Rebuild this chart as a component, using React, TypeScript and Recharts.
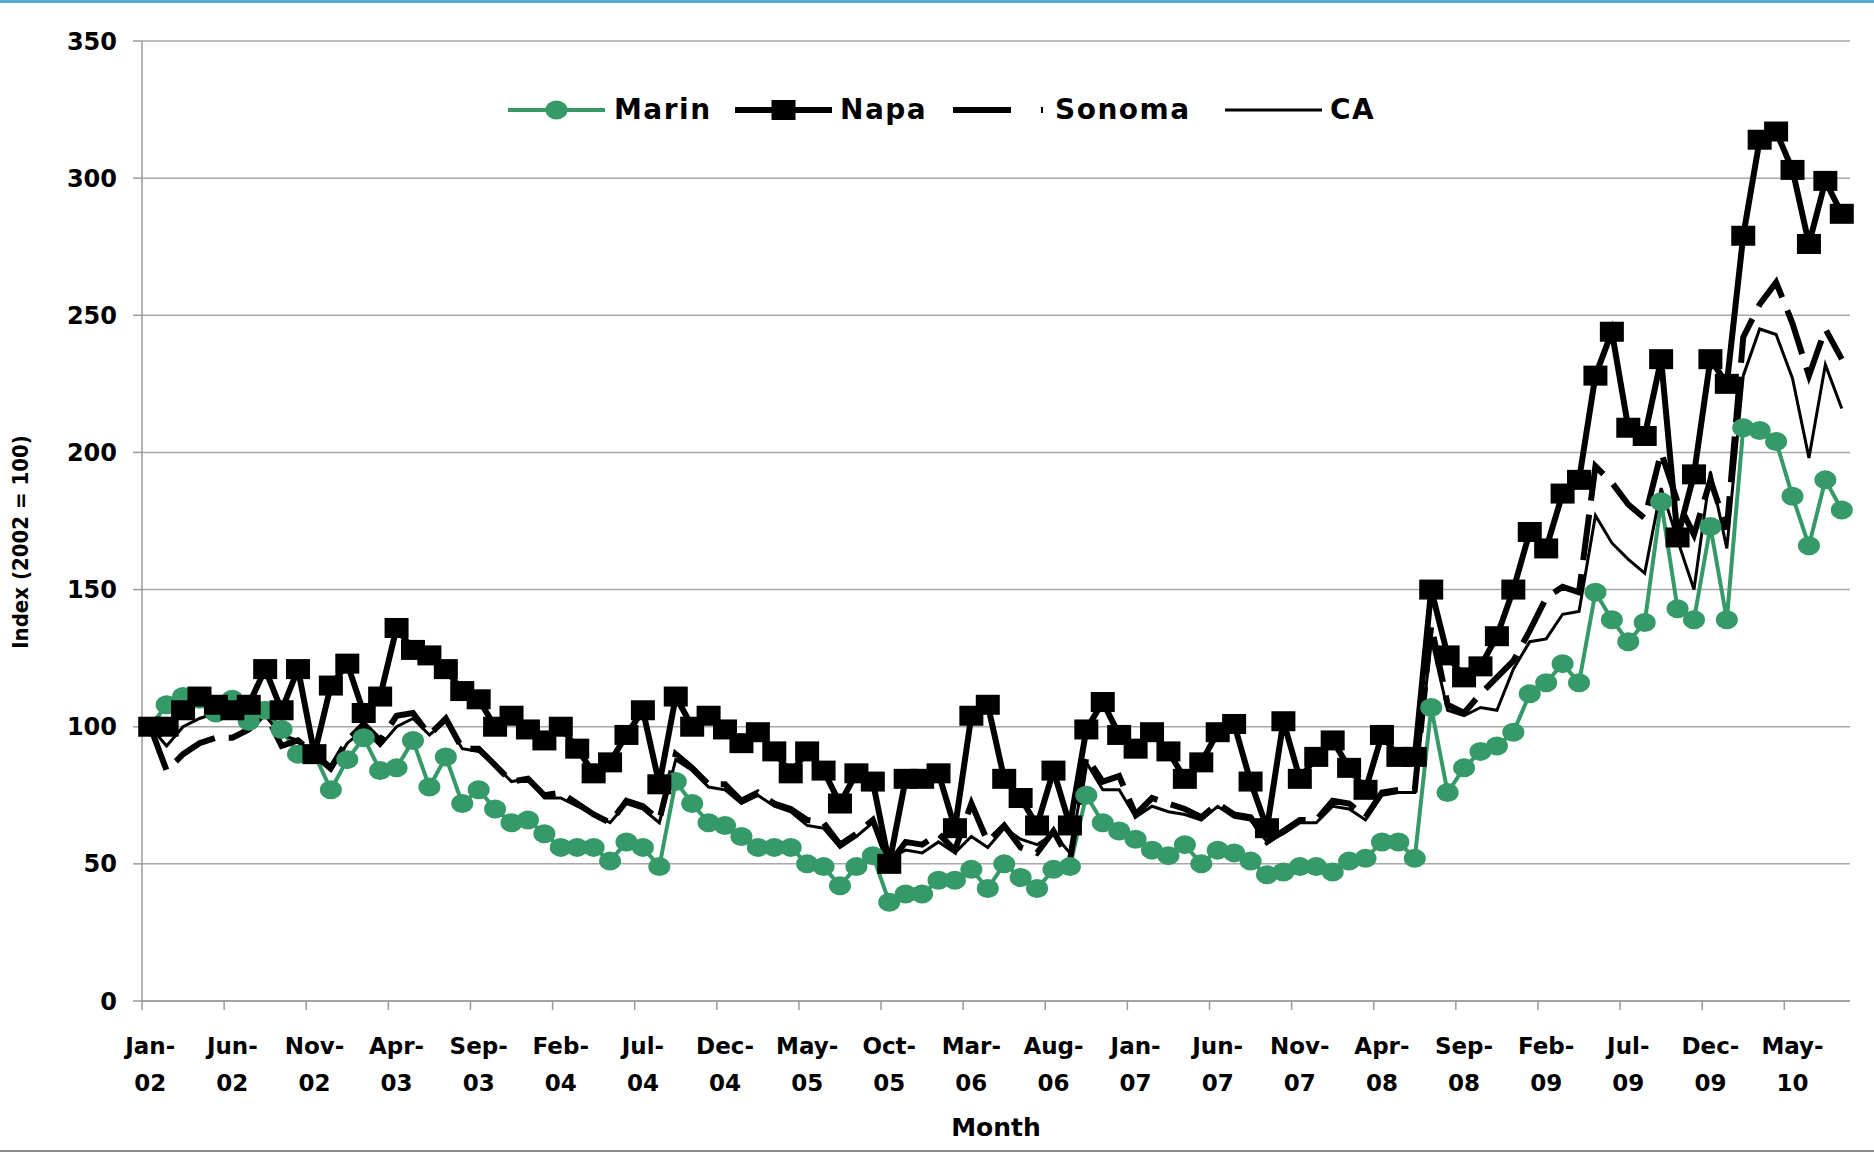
import { LineChart, Line, CartesianGrid, XAxis, YAxis, Legend } from "recharts";

const months = [
  "Jan-02", "Feb-02", "Mar-02", "Apr-02", "May-02", "Jun-02", "Jul-02", "Aug-02", "Sep-02", "Oct-02", "Nov-02", "Dec-02",
  "Jan-03", "Feb-03", "Mar-03", "Apr-03", "May-03", "Jun-03", "Jul-03", "Aug-03", "Sep-03", "Oct-03", "Nov-03", "Dec-03",
  "Jan-04", "Feb-04", "Mar-04", "Apr-04", "May-04", "Jun-04", "Jul-04", "Aug-04", "Sep-04", "Oct-04", "Nov-04", "Dec-04",
  "Jan-05", "Feb-05", "Mar-05", "Apr-05", "May-05", "Jun-05", "Jul-05", "Aug-05", "Sep-05", "Oct-05", "Nov-05", "Dec-05",
  "Jan-06", "Feb-06", "Mar-06", "Apr-06", "May-06", "Jun-06", "Jul-06", "Aug-06", "Sep-06", "Oct-06", "Nov-06", "Dec-06",
  "Jan-07", "Feb-07", "Mar-07", "Apr-07", "May-07", "Jun-07", "Jul-07", "Aug-07", "Sep-07", "Oct-07", "Nov-07", "Dec-07",
  "Jan-08", "Feb-08", "Mar-08", "Apr-08", "May-08", "Jun-08", "Jul-08", "Aug-08", "Sep-08", "Oct-08", "Nov-08", "Dec-08",
  "Jan-09", "Feb-09", "Mar-09", "Apr-09", "May-09", "Jun-09", "Jul-09", "Aug-09", "Sep-09", "Oct-09", "Nov-09", "Dec-09",
  "Jan-10", "Feb-10", "Mar-10", "Apr-10", "May-10", "Jun-10", "Jul-10", "Aug-10",
];

const marin = [
  100, 108, 111, 110, 105, 110, 102, 106, 99, 90,
  90, 77, 88, 96, 84, 85, 95, 78, 89, 72,
  77, 70, 65, 66, 61, 56, 56, 56, 51, 58,
  56, 49, 80, 72, 65, 64, 60, 56, 56, 56,
  50, 49, 42, 49, 53, 36, 39, 39, 44, 44,
  48, 41, 50, 45, 41, 48, 49, 75, 65, 62,
  59, 55, 53, 57, 50, 55, 54, 51, 46, 47,
  49, 49, 47, 51, 52, 58, 58, 52, 107, 76,
  85, 91, 93, 98, 112, 116, 123, 116, 149, 139,
  131, 138, 182, 143, 139, 173, 139, 209, 208, 204,
  184, 166, 190, 179,
];

const napa = [
  100, 100, 106, 111, 108, 106, 108, 121, 106, 121,
  90, 115, 123, 105, 111, 136, 128, 126, 121, 113,
  110, 100, 104, 99, 95, 100, 92, 83, 87, 97,
  106, 79, 111, 100, 104, 99, 94, 98, 91, 83,
  91, 84, 72, 83, 80, 50, 81, 81, 83, 63,
  104, 108, 81, 74, 64, 84, 64, 99, 109, 97,
  92, 98, 91, 81, 87, 98, 101, 80, 63, 102,
  81, 89, 95, 85, 77, 97, 89, 89, 150, 126,
  118, 122, 133, 150, 171, 165, 185, 190, 228, 244,
  209, 206, 234, 169, 192, 234, 225, 279, 314, 317,
  303, 276, 299, 287,
];

const sonoma = [
  100, 84, 90, 94, 96, 96, 99, 105, 93, 95,
  90, 85, 95, 101, 95, 104, 105, 97, 103, 92,
  92, 86, 80, 81, 75, 76, 72, 68, 65, 73,
  71, 66, 90, 85, 79, 79, 73, 76, 72, 70,
  66, 65, 57, 61, 66, 50, 58, 57, 61, 55,
  72, 58, 64, 56, 54, 62, 51, 89, 80, 82,
  68, 74, 72, 70, 67, 72, 68, 67, 58, 62,
  66, 66, 73, 72, 67, 76, 77, 77, 137, 108,
  105, 112, 118, 124, 135, 147, 151, 149, 195, 189,
  181, 176, 200, 182, 170, 190, 172, 242, 254, 262,
  247, 228, 245, 234,
];

const ca = [
  100, 93, 100, 103, 105, 104, 103, 104, 97, 95,
  89, 84, 94, 99, 93, 100, 103, 97, 102, 92,
  91, 86, 80, 81, 74, 74, 71, 68, 65, 72,
  70, 65, 88, 84, 78, 77, 72, 75, 71, 69,
  64, 63, 56, 60, 65, 52, 55, 54, 58, 54,
  60, 56, 63, 59, 57, 61, 54, 87, 77, 77,
  67, 71, 69, 68, 66, 71, 67, 66, 58, 61,
  65, 65, 71, 70, 66, 75, 76, 76, 132, 106,
  104, 107, 106, 121, 131, 132, 141, 142, 177, 167,
  161, 156, 187, 168, 150, 193, 165, 228, 245, 243,
  227, 198, 232, 216,
];

const yTicks = [0, 50, 100, 150, 200, 250, 300, 350];

const data = months.map((m, i) => ({
  month: m,
  Marin: marin[i],
  Napa: napa[i],
  Sonoma: sonoma[i],
  CA: ca[i],
}));

const W = 1874;
const H = 1153;
const PLOT_LEFT = 142;
const PLOT_RIGHT = 1850;
const HALF_BAND = (PLOT_RIGHT - PLOT_LEFT) / months.length / 2;
const GREEN = "#359A68";
const AXIS_GRAY = "#9a9a9a";
const FONT = "'DejaVu Sans', sans-serif";

const circleDot = (p: any) => (
  <ellipse key={`m${p.index}`} cx={p.cx} cy={p.cy} rx={11} ry={9.5} fill={GREEN} />
);

const squareDot = (p: any) => (
  <rect key={`n${p.index}`} x={p.cx - 12} y={p.cy - 10} width={24} height={20} fill="#000" />
);

const XTick = (props: any) => {
  const { x, y, payload } = props;
  const [mon, yr] = String(payload.value).split("-");
  return (
    <g>
      <line x1={x - HALF_BAND} x2={x - HALF_BAND} y1={y} y2={y + 9} stroke={AXIS_GRAY} strokeWidth={1.5} />
      <text x={x} y={y + 53} textAnchor="middle" fontFamily={FONT} fontWeight="bold" fontSize={23} fill="#000">
        {mon}-
      </text>
      <text x={x} y={y + 90} textAnchor="middle" fontFamily={FONT} fontWeight="bold" fontSize={23} fill="#000">
        {yr}
      </text>
    </g>
  );
};

const legendItems = [
  { name: "Marin", width: 227, icon: 97, gap: 9 },
  { name: "Napa", width: 218, icon: 97, gap: 8 },
  { name: "Sonoma", width: 272, icon: 90, gap: 12 },
  { name: "CA", width: 160, icon: 97, gap: 8 },
];

const LegendIcon = ({ name, w }: { name: string; w: number }) => (
  <svg width={w} height={36}>
    {name === "Marin" && (
      <g>
        <line x1={0} x2={w} y1={18} y2={18} stroke={GREEN} strokeWidth={4} />
        <ellipse cx={w / 2} cy={18} rx={11} ry={9.5} fill={GREEN} />
      </g>
    )}
    {name === "Napa" && (
      <g>
        <line x1={0} x2={w} y1={18} y2={18} stroke="#000" strokeWidth={6} />
        <rect x={w / 2 - 12} y={8} width={24} height={20} fill="#000" />
      </g>
    )}
    {name === "Sonoma" && (
      <line x1={0} x2={w} y1={18} y2={18} stroke="#000" strokeWidth={6} strokeDasharray="58 30" />
    )}
    {name === "CA" && <line x1={0} x2={w} y1={18} y2={18} stroke="#000" strokeWidth={3} />}
  </svg>
);

const LegendContent = () => (
  <div
    style={{
      display: "flex",
      alignItems: "center",
      fontFamily: FONT,
      fontWeight: "bold",
      fontSize: 28,
      letterSpacing: 1.5,
      lineHeight: "36px",
      color: "#000",
    }}
  >
    {legendItems.map((it) => (
      <div key={it.name} style={{ width: it.width, display: "flex", alignItems: "center" }}>
        <LegendIcon name={it.name} w={it.icon} />
        <span style={{ marginLeft: it.gap }}>{it.name}</span>
      </div>
    ))}
  </div>
);

const YLabel = (props: any) => {
  const vb = props.viewBox;
  const cy = vb.y + vb.height / 2 + 21;
  return (
    <text
      x={20}
      y={cy}
      transform={`rotate(-90, 20, ${cy})`}
      textAnchor="middle"
      dominantBaseline="central"
      fontFamily="'DejaVu Sans Condensed', 'DejaVu Sans', sans-serif"
      fontWeight="bold"
      fontSize={22}
      fill="#000"
    >
      Index (2002 = 100)
    </text>
  );
};

const XLabel = (props: any) => {
  const vb = props.viewBox;
  return (
    <text
      x={vb.x + vb.width / 2}
      y={1127}
      textAnchor="middle"
      dominantBaseline="central"
      fontFamily={FONT}
      fontWeight="bold"
      fontSize={25}
      fill="#000"
    >
      Month
    </text>
  );
};

const App = () => {
  return (
    <div style={{ position: "absolute", left: 0, top: 0, width: W, height: H, background: "#fff" }}>
      <LineChart width={W} height={H} data={data} margin={{ top: 41, right: W - PLOT_RIGHT, left: 0, bottom: 12 }}>
        <CartesianGrid vertical={false} stroke="#a8a8a8" strokeWidth={1.5} />
        <XAxis
          dataKey="month"
          interval={4}
          height={140}
          padding={{ left: HALF_BAND, right: HALF_BAND }}
          tickSize={0}
          tickMargin={0}
          tickLine={false}
          axisLine={{ stroke: AXIS_GRAY, strokeWidth: 1.5 }}
          tick={<XTick />}
          label={<XLabel />}
        />
        <YAxis
          width={PLOT_LEFT}
          domain={[0, 350]}
          ticks={yTicks}
          interval={0}
          tickSize={9}
          tickMargin={16}
          tickLine={{ stroke: AXIS_GRAY, strokeWidth: 1.5 }}
          axisLine={{ stroke: AXIS_GRAY, strokeWidth: 1.5 }}
          tick={{ fontFamily: FONT, fontWeight: "bold", fontSize: 24, fill: "#000" }}
          label={<YLabel />}
        />
        <Legend
          verticalAlign="middle"
          align="center"
          content={<LegendContent />}
          wrapperStyle={{ position: "absolute", top: 92, left: 508, width: "auto", height: "auto" }}
        />
        <Line
          dataKey="Marin"
          stroke={GREEN}
          strokeWidth={4}
          dot={circleDot}
          activeDot={false}
          isAnimationActive={false}
        />
        <Line
          dataKey="Napa"
          stroke="#000"
          strokeWidth={6}
          dot={squareDot}
          activeDot={false}
          isAnimationActive={false}
        />
        <Line
          dataKey="Sonoma"
          stroke="#000"
          strokeWidth={6}
          strokeDasharray="46 14"
          dot={false}
          activeDot={false}
          isAnimationActive={false}
        />
        <Line dataKey="CA" stroke="#000" strokeWidth={3} dot={false} activeDot={false} isAnimationActive={false} />
      </LineChart>
      <div style={{ position: "absolute", left: 0, top: 0, width: W, height: 3, background: "#5aa9d3" }} />
      <div style={{ position: "absolute", left: 0, top: H - 3, width: W, height: 2, background: "#8c8c8c" }} />
    </div>
  );
};

export default App;
